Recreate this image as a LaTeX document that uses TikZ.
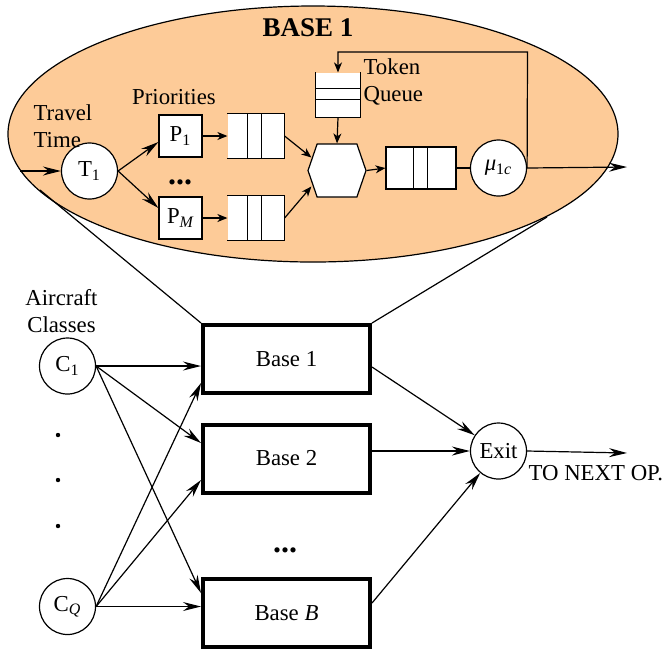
\documentclass[tikz,border=0pt]{standalone}
\usepackage{fontspec}
\setmainfont{Liberation Serif}
\usetikzlibrary{positioning,arrows.meta,shapes.symbols}
\definecolor{peach}{RGB}{253,203,152}

\begin{document}
\begin{tikzpicture}[
        x=0.5pt, y=-0.5pt, line width=0.6pt,
        font=\fontsize{11.4}{13.5}\selectfont,
        bigflow/.style={-{Stealth[length=9pt,width=4.5pt,inset=3pt]}},
        flow/.style={-{Stealth[length=5pt,width=4pt,inset=1.5pt]}},
        station/.style={circle, draw, fill=white, minimum size=28pt, inner sep=0pt},
        prio/.style={rectangle, draw, fill=white, minimum width=21.5pt, minimum height=21pt, inner sep=0pt},
        buffer/.style={fill=white, inner sep=0pt},
        basebox/.style={rectangle, draw, line width=2pt, fill=white, minimum width=83.5pt, minimum height=34pt},
        txt/.style={inner sep=0pt, align=left},
        ddd/.style={font=\fontsize{16}{18}\selectfont\bfseries, inner sep=0pt}
    ]
    \useasboundingbox (0,0) rectangle (668,650);

    % zoomed view of base 1
    \draw[fill=peach] (313,134) ellipse [x radius=305, y radius=128];
    \node[font=\fontsize{13.5}{16}\selectfont\bfseries] (title) at (308,28) {BASE 1};

    \coordinate (in) at (20,171);
    \node[station] (T1) at (89.5,171) {T\textsubscript{1}};
    \node[txt, anchor=west] (tt) at (33,126) {Travel\\Time};
    \node (pr) at (174,97) {Priorities};
    \node[prio] (P1) at (180.5,136) {P\textsubscript{1}};
    \node[prio] (PM) at (180.5,218) {P\textsubscript{\itshape M}};
    \node[ddd] (pd) at (180,182) {...};

    % priority queues, open on the left
    \node[buffer, minimum width=28pt, minimum height=22pt] (q1) at (256,136) {};
    \node[buffer, minimum width=28pt, minimum height=22pt] (q2) at (256,218) {};
    \foreach \q in {q1,q2} {
        \draw (\q.north west) -- (\q.north east) -- (\q.south east) -- (\q.south west);
        \foreach \d in {10,17}
            \draw ([xshift=\d pt]\q.north west) -- ([xshift=\d pt]\q.south west);
    }

    % token queue, open on top
    \node[buffer, minimum width=22pt, minimum height=22pt] (tq) at (338,95) {};
    \draw (tq.north west) -- (tq.south west) -- (tq.south east) -- (tq.north east);
    \foreach \d in {8,13.5}
        \draw ([yshift=-\d pt]tq.north west) -- ([yshift=-\d pt]tq.north east);
    \node[txt, anchor=west] (tqt) at (363,82) {Token\\Queue};

    \node[signal, signal to=east and west, signal pointer angle=142, draw, fill=white,
          minimum width=29pt, minimum height=26.5pt, inner sep=0pt] (hx) at (337,170.5) {};

    \node[buffer, draw, minimum width=35pt, minimum height=21pt] (q3) at (421,168) {};
    \foreach \d in {14,21}
        \draw ([xshift=\d pt]q3.north west) -- ([xshift=\d pt]q3.south west);

    \node[station] (mu) at (498.5,168) {{\itshape μ}\textsubscript{1{\itshape c}}};
    \coordinate (loop) at (527.5,52);
    \coordinate (out) at (627,167);

    \draw[bigflow] (in) -- (T1);
    \draw[bigflow] (T1.east) -- ([yshift=-3pt]P1.west);
    \draw[bigflow] (T1.east) -- ([yshift=5pt]PM.west);
    \draw[flow] (P1) -- (q1);
    \draw[flow] (PM) -- (q2);
    \draw[flow] (q1.east) -- ([shift={(2pt,6.5pt)}]hx.west);
    \draw[flow] (q2.east) -- ([shift={(2pt,-8pt)}]hx.west);
    \draw[flow] (tq.south) -- (hx.north);
    \draw[flow] (hx.east) -- (q3.west);
    \draw (q3.east) -- (mu.west);
    \draw[flow] (mu.east) -- (loop) -| (tq.north);
    \draw[bigflow] (mu.east) -- (out);

    % bases
    \node[basebox] (B1) at (286.5,359) {Base 1};
    \node[basebox] (B2) at (286.5,458.5) {Base 2};
    \node[basebox] (BB) at (286.5,613) {Base \textit{B}};
    \node[ddd] (bd) at (285,550) {...};

    \coordinate (zl) at (40,190);
    \coordinate (zr) at (547,217);
    \draw (zl) -- (B1.north west);
    \draw (zr) -- (B1.north east);

    % aircraft classes
    \node[align=center] (ac) at (61.5,311) {Aircraft\\Classes};
    \node[station] (C1) at (67.5,366) {C\textsubscript{1}};
    \node[station] (CQ) at (67.5,606.5) {C\textsubscript{\itshape Q}};
    \foreach \y in {435,480,526}
        \fill (58,\y) circle (1.1pt);

    \draw[bigflow] (C1.east) -- (C1.east -| B1.west);
    \draw[bigflow] (C1.east) -- ([yshift=7.75pt]B2.west);
    \draw[bigflow] (C1.east) -- ([yshift=10pt]BB.west);
    \draw[bigflow] (CQ.east) -- ([yshift=-12pt]B1.west);
    \draw[bigflow] (CQ.east) -- ([yshift=-10.75pt]B2.west);
    \draw[bigflow] (CQ.east) -- (CQ.east -| BB.west);

    % exit
    \node[station] (Ex) at (498.5,451) {Exit};
    \coordinate (next) at (627,453);
    \draw[bigflow] ([yshift=-4pt]B1.east) -- (Ex);
    \draw[bigflow] (B2.east |- Ex.west) -- (Ex.west);
    \draw[bigflow] ([yshift=5pt]BB.east) -- (Ex);
    \draw[bigflow] (Ex.east) -- (next);
    \node[txt, anchor=west] (nt) at (528,473) {TO NEXT OP.};
\end{tikzpicture}
\end{document}
